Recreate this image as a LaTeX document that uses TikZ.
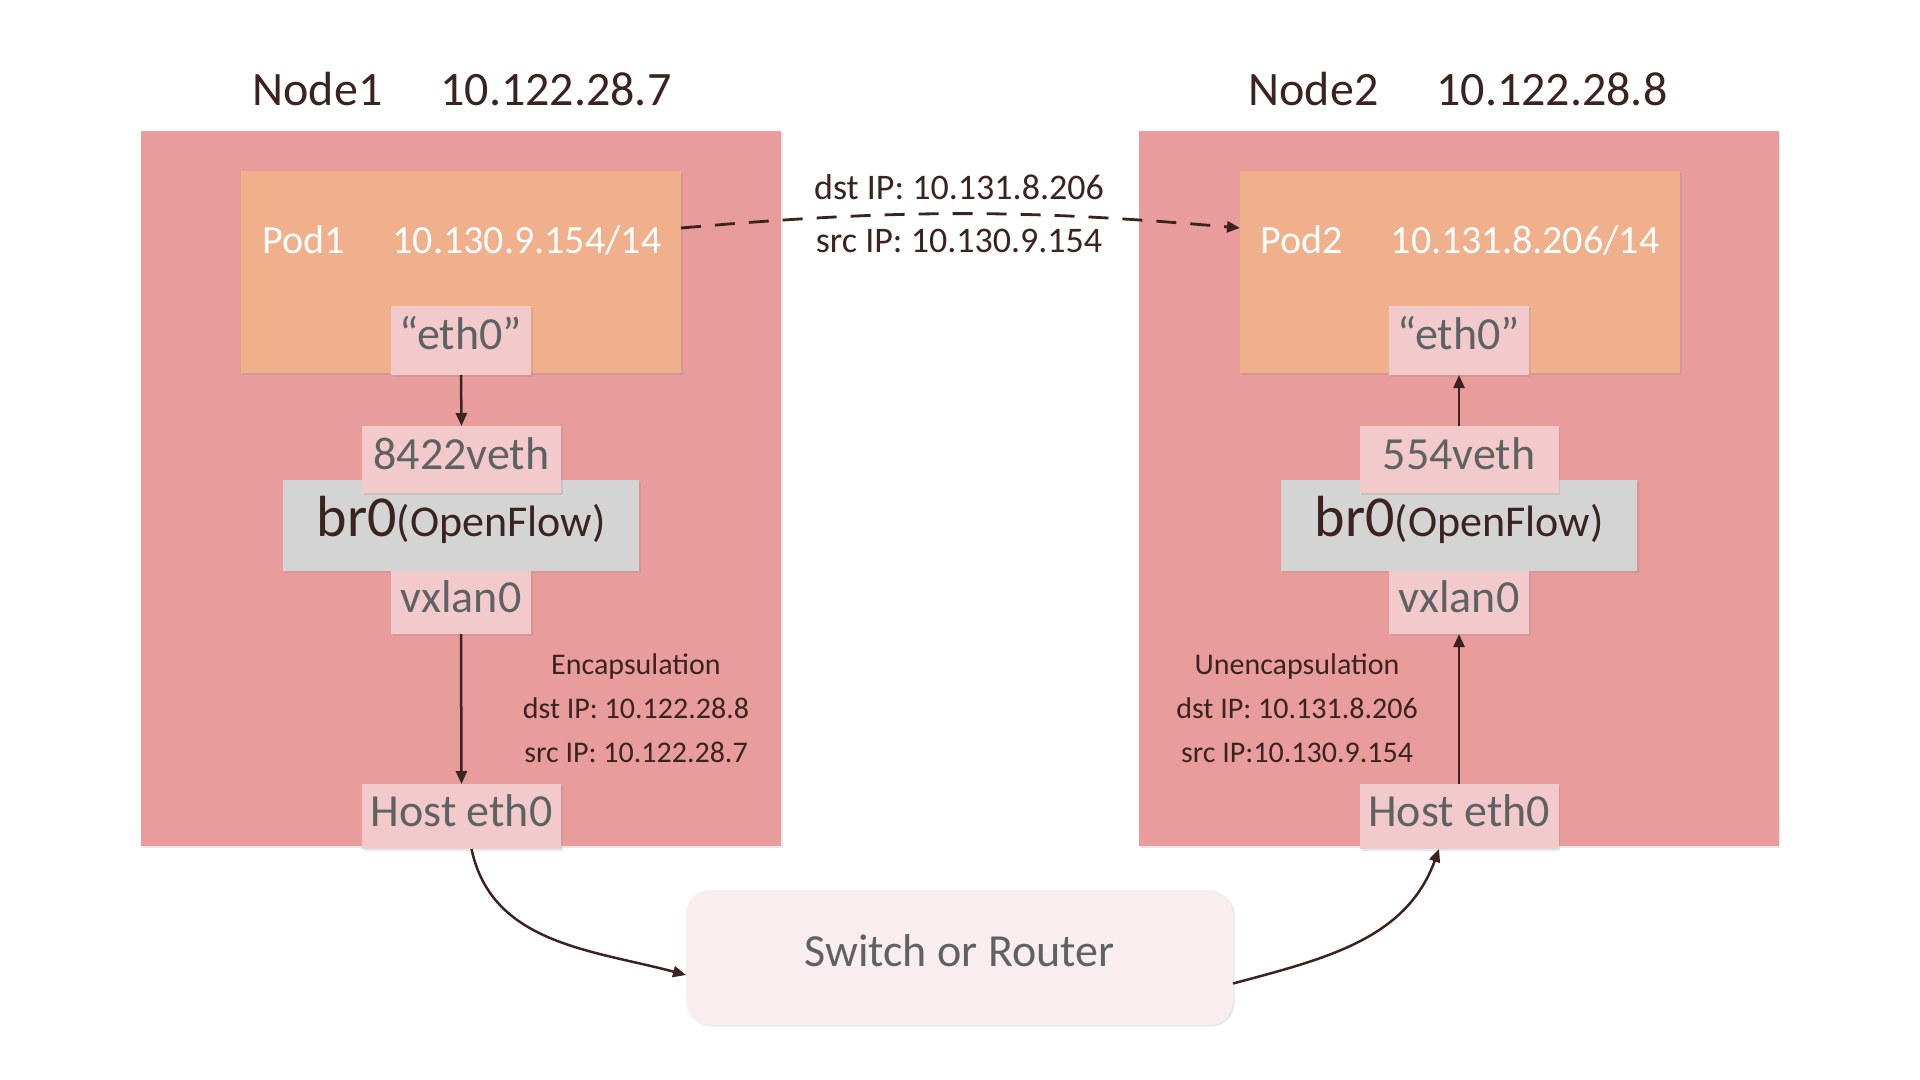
\documentclass[tikz,border=0pt]{standalone}
\usepackage{fontspec}
\setmainfont{Carlito}
\usetikzlibrary{arrows.meta,shadows}
\definecolor{nodebg}{HTML}{E89C9C}
\definecolor{podbg}{HTML}{F0B08C}
\definecolor{portbg}{HTML}{F2CACB}
\definecolor{brbg}{HTML}{D4D4D4}
\definecolor{swbg}{HTML}{F9EDF0}
\definecolor{ink}{HTML}{3B231F}
\definecolor{porttxt}{HTML}{5F6262}
\newcommand{\fs}[1]{\fontsize{#1}{1.2\dimexpr#1\relax}\selectfont}
\tikzset{
  shad/.style={drop shadow={opacity=0.18,shadow xshift=0.8pt,shadow yshift=-0.8pt}},
  hostbox/.style={fill=nodebg,shad,minimum width=320pt,minimum height=357.5pt,inner sep=0pt,outer sep=0pt},
  podbox/.style={fill=podbg,shad,minimum width=220pt,minimum height=101pt,inner sep=0pt,outer sep=0pt},
  portbox/.style={fill=portbg,shad,text=porttxt,font=\fs{23pt},inner sep=0pt,outer sep=0pt,minimum height=33pt,text height=16pt,text depth=6.5pt},
  brbox/.style={fill=brbg,shad,text=ink,minimum width=178pt,minimum height=45.5pt,inner sep=0pt,outer sep=0pt,text height=21pt,text depth=10pt},
  title/.style={text=ink,font=\fs{24pt},inner sep=0pt},
  podtxt/.style={text=white,font=\fs{20pt},inner sep=0pt},
  lbl/.style={text=ink,font=\fs{18pt},inner sep=0pt},
  note/.style={text=ink,font=\fs{15pt},align=center,inner sep=0pt},
  swbox/.style={fill=swbg,shad,rounded corners=12pt,minimum width=273.5pt,minimum height=67.5pt,text=porttxt,font=\fs{23pt},inner sep=0pt,outer sep=0pt,text height=16pt,text depth=6.6pt},
  arr/.style={draw=ink,line width=1.25pt,-{Triangle[length=6.5pt,width=5.5pt]}},
}
\begin{document}
\begin{tikzpicture}[x=0.5pt,y=-0.5pt]
\useasboundingbox[fill=white] (0,0) rectangle (1920,1080);

% ---- Node 1 ----
\node[title] (t1) at (462,89) {Node1\hspace{29pt}10.122.28.7};
\node[hostbox] (n1) at (461,488.5) {};
\node[podbox] (pod1) at (461,272) {};
\node[podtxt] (pt1) at (462,240) {Pod1\hspace{24pt}10.130.9.154/14};
\node[portbox,minimum width=70pt,minimum height=34.5pt] (eth1) at (461,340.5) {“eth0”};
\node[brbox] (br1) at (461,525.5) {\fs{29pt}br0\fs{22pt}(OpenFlow)};
\node[portbox,minimum width=99.5pt,minimum height=33.5pt] (veth1) at (461.5,459.5) {8422veth};
\node[portbox,minimum width=70pt,minimum height=31.5pt] (vx1) at (461,602.5) {vxlan0};
\node[portbox,minimum width=99.5pt,minimum height=32.5pt] (host1) at (461.5,816.5) {Host eth0};
\node[note] (enc) at (636,708) {Encapsulation\\[4pt]dst IP: 10.122.28.8\\[4pt]src IP: 10.122.28.7};

% ---- Node 2 ----
\node[title] (t2) at (1458,89) {Node2\hspace{29pt}10.122.28.8};
\node[hostbox] (n2) at (1458.5,488.5) {};
\node[podbox] (pod2) at (1460,272) {};
\node[podtxt] (pt2) at (1460,240) {Pod2\hspace{24pt}10.131.8.206/14};
\node[portbox,minimum width=70pt,minimum height=34.5pt] (eth2) at (1459,340.5) {“eth0”};
\node[brbox] (br2) at (1459,525.5) {\fs{29pt}br0\fs{22pt}(OpenFlow)};
\node[portbox,minimum width=99.5pt,minimum height=33.5pt] (veth2) at (1459,459.5) {554veth};
\node[portbox,minimum width=70pt,minimum height=31.5pt] (vx2) at (1459,602.5) {vxlan0};
\node[portbox,minimum width=99.5pt,minimum height=32.5pt] (host2) at (1459,816.5) {Host eth0};
\node[note] (unenc) at (1297,708) {Unencapsulation\\[4pt]dst IP: 10.131.8.206\\[4pt]src IP:10.130.9.154};

% ---- Switch ----
\node[swbox] (sw) at (959.5,957.5) {Switch or Router};

% ---- pod to pod ----
\node[lbl] (dst) at (959,187) {dst IP: 10.131.8.206};
\node[lbl] (src) at (959,241) {src IP: 10.130.9.154};
\draw[arr,line width=1.4pt,dash pattern=on 10pt off 7pt] ([yshift=22pt]pod1.east) to[bend left=5] ([yshift=22pt]pod2.west);

% ---- connectors ----
\draw[arr] (eth1.south) -- (veth1.north);
\draw[arr] (vx1.south) -- (host1.north);
\draw[arr] (host2.north) -- (vx2.south);
\draw[arr] (veth2.north) -- (eth2.south);
\draw[arr] ([xshift=5pt]host1.south) to[out=-78,in=165] ([yshift=-8.75pt]sw.west);
\draw[arr] ([yshift=-13pt]sw.east) to[out=15,in=-110] ([xshift=-10pt]host2.south);
\end{tikzpicture}
\end{document}
